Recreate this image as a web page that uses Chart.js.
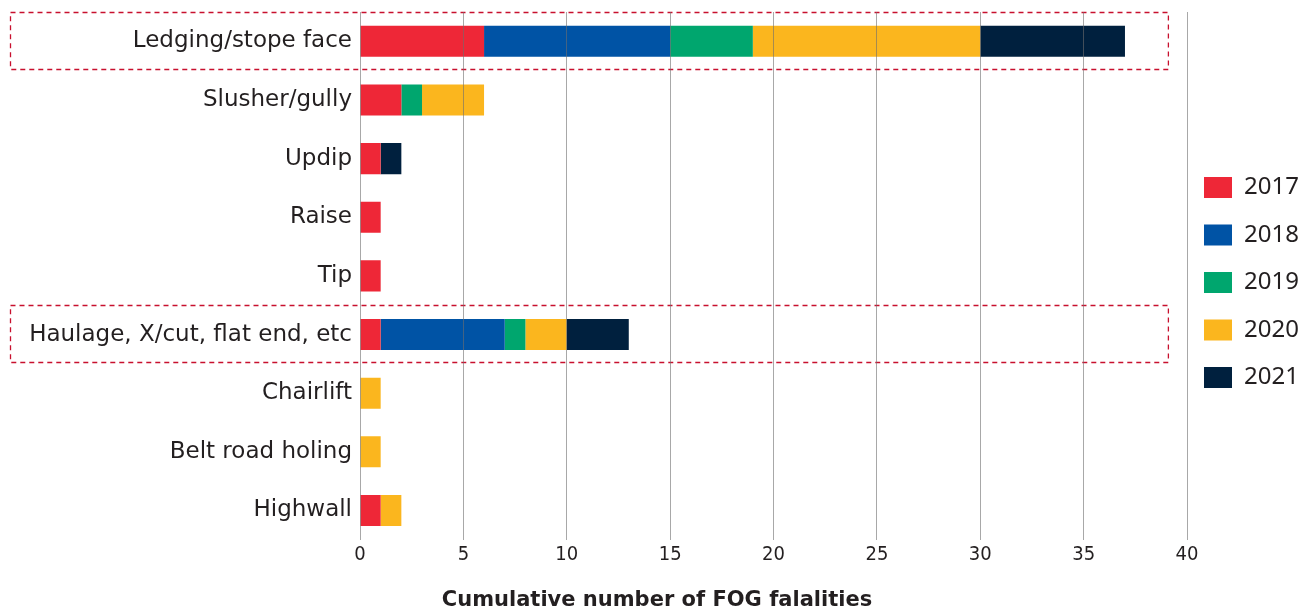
<!DOCTYPE html>
<html>
<head>
<meta charset="utf-8">
<script src="https://cdn.jsdelivr.net/npm/chart.js@4"></script>
<style>
  html, body { margin: 0; padding: 0; background: #fff; }
  #wrap { width: 1314px; height: 613px; position: relative; }
</style>
</head>
<body>
<div id="wrap"><canvas id="fogChart"></canvas></div>
<script>
var categories = ['Ledging/stope face', 'Slusher/gully', 'Updip', 'Raise', 'Tip',
    'Haulage, X/cut, flat end, etc', 'Chairlift', 'Belt road holing', 'Highwall'];
var years = ['2017', '2018', '2019', '2020', '2021'];
var v2017 = [6, 2, 1, 1, 1, 1, 0, 0, 1];
var v2018 = [9, 0, 0, 0, 0, 6, 0, 0, 0];
var v2019 = [4, 1, 0, 0, 0, 1, 0, 0, 0];
var v2020 = [11, 3, 0, 0, 0, 2, 1, 1, 1];
var v2021 = [7, 0, 1, 0, 0, 3, 0, 0, 0];
var xTicks = [0, 5, 10, 15, 20, 25, 30, 35, 40];
var highlighted = [0, 5]; // rows with the red dashed frame

var seriesValues = [v2017, v2018, v2019, v2020, v2021];
var colors = ['#ee2737', '#0053a5', '#00a66e', '#fbb61e', '#00203e'];
var textColor = '#231f20';
var sans = '"Noto Sans", "DejaVu Sans", sans-serif';
var wide = '"DejaVu Sans", "Noto Sans", sans-serif';
var narrow = '"Liberation Sans Narrow", "DejaVu Sans Condensed", "Noto Sans", sans-serif';

// dashed frames around the highlighted rows
var frameBoxes = {
    id: 'frameBoxes',
    afterDatasetsDraw: function (chart) {
        var y = chart.scales.y, x = chart.scales.x;
        var half = (y.getPixelForValue(1) - y.getPixelForValue(0)) / 2 - 1;
        var ctx = chart.ctx;
        ctx.save();
        ctx.strokeStyle = '#c8102e';
        ctx.lineWidth = 1.3;
        ctx.setLineDash([5, 4]);
        highlighted.forEach(function (i) {
            var cy = y.getPixelForValue(i);
            var left = 10.5;
            var right = x.getPixelForValue(39.1);
            ctx.strokeRect(left, Math.round(cy - half) - 0.5, right - left, Math.round(half * 2));
        });
        ctx.restore();
    }
};

// nudge the legend column a little left/up of where the layout puts it
var legendNudge = {
    id: 'legendNudge',
    afterLayout: function (chart) {
        var lg = chart.legend;
        if (!lg) return;
        lg.left -= 6.5; lg.right -= 6.5;
        lg.top -= 30; lg.bottom -= 30;
    }
};

new Chart(document.getElementById('fogChart'), {
    type: 'bar',
    data: {
        labels: categories,
        datasets: years.map(function (yr, i) {
            return {
                label: yr,
                data: seriesValues[i],
                backgroundColor: colors[i],
                borderWidth: 0,
                barPercentage: 0.53,
                categoryPercentage: 1
            };
        })
    },
    options: {
        indexAxis: 'y',
        responsive: true,
        maintainAspectRatio: false,
        animation: false,
        layout: { padding: { top: 12, right: 0, bottom: 0, left: 0 } },
        scales: {
            x: {
                stacked: true,
                min: 0,
                max: 40,
                afterBuildTicks: function (s) { s.ticks = xTicks.map(function (v) { return { value: v }; }); },
                grid: { color: 'rgba(110,110,110,0.6)', lineWidth: 1, drawTicks: false, z: 1 },
                border: { display: false },
                ticks: { color: textColor, padding: 3, font: { family: narrow, size: 20 } }
            },
            y: {
                stacked: true,
                grid: { display: false, drawTicks: false },
                border: { display: false },
                afterFit: function (s) {
                    s.width = 360;
                    s.paddingTop = 0;
                    s.paddingBottom = 0;
                },
                ticks: { color: textColor, padding: 8, font: { family: wide, size: 23 } }
            }
        },
        plugins: {
            legend: {
                position: 'right',
                align: 'center',
                maxWidth: 127,
                labels: {
                    boxWidth: 28,
                    boxHeight: 21,
                    padding: 23.5,
                    color: textColor,
                    font: { family: sans, size: 24 }
                }
            },
            title: {
                display: true,
                position: 'bottom',
                text: 'Cumulative number of FOG falalities',
                color: textColor,
                font: { family: wide, size: 21, weight: 'bold' },
                padding: { top: 18, bottom: 0 }
            },
            tooltip: { enabled: false }
        }
    },
    plugins: [frameBoxes, legendNudge]
});
</script>
</body>
</html>
